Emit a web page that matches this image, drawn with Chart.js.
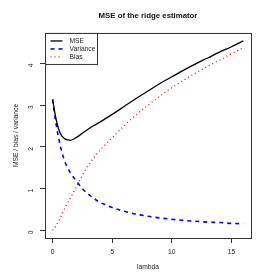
<!DOCTYPE html>
<html>
<head>
<meta charset="utf-8">
<script src="https://cdn.jsdelivr.net/npm/chart.js@4/dist/chart.umd.min.js"></script>
<style>
  html, body { margin: 0; padding: 0; background: #fff; }
  #wrap { width: 280px; height: 280px; }
</style>
</head>
<body>
<div id="wrap"><canvas id="grafikRidge" width="280" height="280"></canvas></div>
<script>
// === DATA ===
const lambdaVals   = [0, 0.25, 0.5, 0.75, 1, 1.25, 1.5, 2, 2.5, 3, 3.5, 4, 4.5, 5, 6, 7, 8, 9, 10, 11, 12, 13, 14, 15, 16];
const mseVals      = [3.14, 2.72, 2.43, 2.27, 2.20, 2.17, 2.16, 2.23, 2.33, 2.43, 2.52, 2.60, 2.69, 2.78, 2.97, 3.16, 3.34, 3.52, 3.68, 3.84, 3.99, 4.13, 4.27, 4.40, 4.54];
const varianceVals = [3.14, 2.62, 2.22, 1.90, 1.67, 1.51, 1.38, 1.18, 1.00, 0.87, 0.76, 0.67, 0.61, 0.55, 0.46, 0.39, 0.34, 0.30, 0.27, 0.24, 0.22, 0.20, 0.19, 0.17, 0.16];
const biasVals     = [0, 0.10, 0.22, 0.37, 0.52, 0.66, 0.78, 1.05, 1.33, 1.56, 1.76, 1.93, 2.08, 2.22, 2.51, 2.77, 3.00, 3.22, 3.42, 3.60, 3.77, 3.93, 4.08, 4.23, 4.38];
const xTicks = [0, 5, 10, 15];
const yTicks = [0, 1, 2, 3, 4];

const FONT = '"Liberation Sans", Arial, sans-serif';
const AXIS_COLOR = "#333";

function toPoints(vals) {
  return lambdaVals.map((l, i) => ({ x: l, y: vals[i] }));
}

// kotak plot (gaya R) + legenda dengan bingkai
const boxPlugin = {
  id: "boxPlugin",
  afterDatasetsDraw(chart) {
    const { ctx, chartArea } = chart;
    ctx.save();
    ctx.strokeStyle = AXIS_COLOR;
    ctx.lineWidth = 1;
    ctx.strokeRect(chartArea.left + 0.5, chartArea.top + 0.5,
      chartArea.right - chartArea.left, chartArea.bottom - chartArea.top);
    ctx.restore();
  },
  afterDraw(chart) {
    const { ctx, chartArea } = chart;
    const x0 = chartArea.left + 0.5, y0 = chartArea.top + 0.5;
    ctx.save();
    ctx.fillStyle = "#fff";
    ctx.fillRect(x0, y0, 52, 31);
    ctx.strokeStyle = AXIS_COLOR;
    ctx.lineWidth = 1;
    ctx.strokeRect(x0, y0, 52, 31);
    ctx.font = "6.7px " + FONT;
    ctx.textBaseline = "middle";
    chart.data.datasets.forEach((ds, i) => {
      const y = y0 + 7.5 + i * 8;
      ctx.strokeStyle = ds.borderColor;
      ctx.lineWidth = ds.borderWidth;
      ctx.setLineDash(ds.borderDash || []);
      ctx.beginPath();
      ctx.moveTo(x0 + 5, y);
      ctx.lineTo(x0 + 17, y);
      ctx.stroke();
      ctx.setLineDash([]);
      ctx.fillStyle = "#222";
      ctx.fillText(ds.label, x0 + 24, y);
    });
    ctx.restore();
  }
};

const ctx = document.getElementById("grafikRidge").getContext("2d");
new Chart(ctx, {
  type: "line",
  data: {
    datasets: [
      { label: "MSE", data: toPoints(mseVals), borderColor: "#000000", borderWidth: 1.3 },
      { label: "Variance", data: toPoints(varianceVals), borderColor: "#0000ff", borderWidth: 1.6, borderDash: [4, 4] },
      { label: "Bias", data: toPoints(biasVals), borderColor: "#ff0000", borderWidth: 1.3, borderDash: [1, 3] }
    ]
  },
  options: {
    responsive: false,
    animation: false,
    elements: {
      point: { radius: 0 },
      line: { cubicInterpolationMode: "monotone", fill: false }
    },
    layout: { padding: { left: 0, right: 29, top: 0, bottom: 0 } },
    plugins: {
      legend: { display: false },
      tooltip: { enabled: false },
      title: {
        display: true,
        fullSize: false,
        text: "MSE of the ridge estimator",
        color: "#111",
        font: { family: FONT, size: 7.8, weight: "bold" },
        padding: { top: 11, bottom: 12.6 }
      }
    },
    scales: {
      x: {
        type: "linear",
        min: -0.64,
        max: 16.64,
        afterBuildTicks: (scale) => { scale.ticks = xTicks.map(v => ({ value: v })); },
        afterFit: (scale) => { scale.height = 42; },
        grid: { drawOnChartArea: false, drawTicks: true, tickLength: 5, color: AXIS_COLOR },
        border: { display: false },
        ticks: { color: "#222", font: { family: FONT, size: 6.7 }, padding: 5, maxRotation: 0, minRotation: 0 },
        title: { display: true, text: "lambda", color: "#222", font: { family: FONT, size: 6.7 }, padding: { top: 0, bottom: 9 } }
      },
      y: {
        type: "linear",
        min: -0.18,
        max: 4.73,
        afterBuildTicks: (scale) => { scale.ticks = yTicks.map(v => ({ value: v })); },
        afterFit: (scale) => { scale.width = 45; },
        grid: { drawOnChartArea: false, drawTicks: true, tickLength: 5, color: AXIS_COLOR },
        border: { display: false },
        ticks: { color: "#222", font: { family: FONT, size: 6.7 }, padding: 9, minRotation: 90, maxRotation: 90 },
        title: { display: true, text: "MSE / bias / variance", color: "#222", font: { family: FONT, size: 6.7 }, padding: { top: 12, bottom: 0 } }
      }
    }
  },
  plugins: [boxPlugin]
});
</script>
</body>
</html>
